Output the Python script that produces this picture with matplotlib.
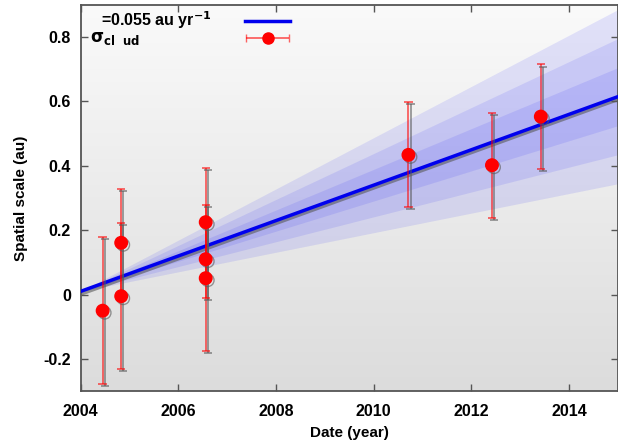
import numpy as np
import matplotlib.pyplot as plt
import matplotlib.patheffects as pe
from matplotlib.colors import LinearSegmentedColormap
from matplotlib.lines import Line2D
from matplotlib.container import ErrorbarContainer
from matplotlib.legend_handler import HandlerErrorbar

# measured spatial scale of the cloud vs date
years = [2004.45, 2004.83, 2004.83, 2006.56, 2006.56, 2006.56, 2010.71, 2012.42, 2013.42]
scale = [-0.05, 0.161, -0.005, 0.225, 0.110, 0.051, 0.434, 0.402, 0.553]
scale_err = [0.228, 0.167, 0.227, 0.169, 0.120, 0.227, 0.163, 0.163, 0.162]

# linear expansion fit and its 1/2/3 sigma fan
t0 = 2004.0
y0 = 0.01
rate = 0.055
rate_sigma = 0.0082
n_sigma = [3, 2, 1]

xticks = [2004, 2006, 2008, 2010, 2012, 2014]
yticks = [-0.2, 0, 0.2, 0.4, 0.6, 0.8]
yticklabels = ['-0.2', '0', '0.2', '0.4', '0.6', '0.8']
labels = [r'=0.055 au yr$^{-1}$', r'$\sigma_{cl\ \ ud}$']

plt.rcParams['font.family'] = ['Liberation Sans', 'DejaVu Sans']
plt.rcParams['font.weight'] = 'bold'
plt.rcParams['mathtext.default'] = 'bf'

fig = plt.figure(figsize=(6.18, 4.43), dpi=100)
ax = fig.add_axes([0.1305, 0.117, 0.8695, 0.872])

# grey gradient background
grad = np.linspace(0, 1, 256).reshape(-1, 1)
cmap = LinearSegmentedColormap.from_list('bg', ['#fafafa', '#dcdcdc'])
ax.imshow(grad, extent=[0, 1, 0, 1], transform=ax.transAxes, aspect='auto',
          cmap=cmap, zorder=0)

t = np.linspace(2004, 2015, 50)
fit = y0 + rate * (t - t0)
for k in n_sigma:
    ax.fill_between(t, fit - k * rate_sigma * (t - t0), fit + k * rate_sigma * (t - t0),
                    color='blue', alpha=0.095, lw=0, zorder=1)

shadow = [pe.SimpleLineShadow(offset=(1.5, -1.5), shadow_color='0.35', alpha=0.6), pe.Normal()]

ax.plot(t, fit, color='#0000ee', lw=2.5, zorder=3, path_effects=shadow)

eb = ax.errorbar(years, scale, yerr=scale_err, fmt='none', ecolor=(1, 0, 0, 0.6),
                 elinewidth=1.3, capsize=3, capthick=1.3, zorder=4)
for c in eb.lines[2]:
    c.set_path_effects(shadow)
for c in eb.lines[1]:
    c.set_path_effects(shadow)
ax.plot(years, scale, 'o', color='red', ms=9, mec='red', zorder=5, path_effects=shadow)

# legend handles (text is written separately, left of the samples)
err_handle = ax.errorbar(years[:1], scale[:1], xerr=[0.1], fmt='o', color='red', ms=8,
                         ecolor=(1, 0, 0, 0.6), elinewidth=1.3, capsize=3)
err_handle.remove()
line_handle = Line2D([], [], color='#0000ee', lw=2.5)
ax.legend([line_handle, err_handle], ['', ''], loc='upper left',
          bbox_to_anchor=(0.283, 1.008), frameon=False, handlelength=2.8,
          fontsize=11.5, labelspacing=0.15, handletextpad=0, borderpad=0.3,
          handler_map={ErrorbarContainer: HandlerErrorbar(xerr_size=1.35)})
ax.text(0.037, 0.960, labels[0], transform=ax.transAxes, fontsize=11.5, va='center')
ax.text(0.018, 0.914, labels[1], transform=ax.transAxes, fontsize=12, va='center')

ax.set_xlim(2004, 2015)
ax.set_ylim(-0.3, 0.9)
ax.set_xticks(xticks)
ax.set_yticks(yticks)
ax.set_yticklabels(yticklabels)
ax.tick_params(direction='in', top=True, right=True, length=5, width=1,
               color='#555555', labelsize=11.5)
ax.tick_params(axis='x', pad=9)
ax.tick_params(axis='y', pad=7)
for s in ax.spines.values():
    s.set_color('#555555')
    s.set_linewidth(1.3)

ax.set_xlabel('Date (year)', fontsize=11, fontweight='bold', labelpad=5)
ax.set_ylabel('Spatial scale (au)', fontsize=11, fontweight='bold', labelpad=11)

fig.savefig('out.png', dpi=100)
